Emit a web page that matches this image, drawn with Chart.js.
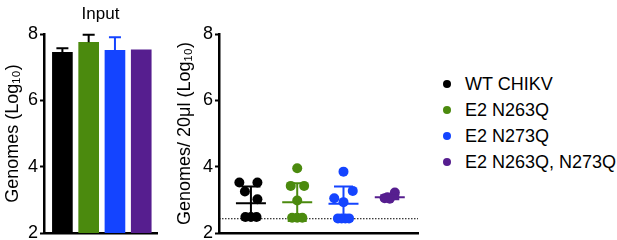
<!DOCTYPE html>
<html>
<head>
<meta charset="utf-8">
<script src="https://cdn.jsdelivr.net/npm/chart.js@4"></script>
<style>
  body { margin: 0; background: #fff; width: 617px; height: 240px; position: relative; overflow: hidden; font-family: "Liberation Sans", Arial, sans-serif; }
  #left { position: absolute; left: 0; top: 0; }
  #right { position: absolute; left: 160px; top: 0; }
  .legend { position: absolute; left: 443px; top: 72px; }
  .legend div { height: 26px; line-height: 24px; font-size: 18px; color: #000; white-space: nowrap; }
  .legend span { display: inline-block; width: 8px; height: 8px; border-radius: 50%; margin-right: 14px; vertical-align: 2px; }
</style>
</head>
<body>
<canvas id="left" width="175" height="240"></canvas>
<canvas id="right" width="270" height="240"></canvas>
<div class="legend" id="legend"></div>
<script>
const groups = ["WT CHIKV", "E2 N263Q", "E2 N273Q", "E2 N263Q, N273Q"];
const colors = ["#000000", "#4b8a0e", "#1444ff", "#561e8f"];
const yTicks = [2, 4, 6, 8];

// input panel: bar height and upper error
const inputMean = [7.45, 7.75, 7.51, 7.52];
const inputErr = [0.12, 0.23, 0.39, 0];
const inputErrColor = ["#000000", "#000000", "#1444ff", "#561e8f"];

// right panel: individual values and jitter offsets (in group units)
const wtVals = [3.52, 3.52, 3.25, 3.02, 2.48, 2.48, 2.48];
const wtJit = [-0.25, 0.14, -0.13, 0.14, -0.12, 0, 0.12];
const n263Vals = [3.95, 3.42, 3.42, 2.98, 2.46, 2.46, 2.46];
const n263Jit = [0, -0.14, 0.15, 0, -0.11, 0, 0.11];
const n273Vals = [3.85, 3.27, 3.05, 2.93, 2.44, 2.44, 2.44, 2.44];
const n273Jit = [0, 0.2, -0.2, 0, -0.12, -0.04, 0.04, 0.12];
const dblVals = [3.05, 3.03, 3.22, 3.08];
const dblJit = [-0.11, 0, 0.11, -0.05];
const groupMean = [2.90, 2.93, 2.88, 3.08];
const groupSD = [0.50, 0.57, 0.52, 0.06];
const detectLimit = 2.43;

const font = "'Liberation Sans', Arial, sans-serif";

function yAxis(title, titlePad, width) {
  return {
    min: 2, max: 8,
    afterBuildTicks: s => { s.ticks = yTicks.map(v => ({ value: v })); },
    afterFit: s => { s.width = width; s.paddingTop = 0; s.paddingBottom = 0; },
    ticks: { color: "#000", font: { family: font, size: 18 }, padding: 2 },
    grid: { drawOnChartArea: false, drawTicks: true, tickLength: 4, tickWidth: 2, tickColor: "#000" },
    border: { display: true, color: "#000", width: 2.5 },
    title: { display: true, text: title, color: "#000", font: { family: font, size: 18 }, padding: { top: titlePad, bottom: 0 } }
  };
}

function xAxis(min, max) {
  return {
    type: "linear", min: min, max: max, offset: false,
    afterFit: s => { s.height = 6; s.paddingLeft = 0; s.paddingRight = 0; },
    ticks: { display: false },
    grid: { display: false, drawTicks: false, offset: false },
    border: { display: true, color: "#000", width: 2.5 }
  };
}

const inputErrPlugin = {
  id: "inputErr",
  afterDatasetsDraw(chart) {
    const ctx = chart.ctx, x = chart.scales.x, y = chart.scales.y;
    ctx.save();
    ctx.lineWidth = 2;
    inputMean.forEach((m, i) => {
      if (!inputErr[i]) return;
      const cx = x.getPixelForValue(i);
      const top = y.getPixelForValue(m + inputErr[i]);
      ctx.strokeStyle = inputErrColor[i];
      ctx.beginPath();
      ctx.moveTo(cx, y.getPixelForValue(m));
      ctx.lineTo(cx, top);
      ctx.moveTo(cx - 6, top);
      ctx.lineTo(cx + 6, top);
      ctx.stroke();
    });
    // panel title, centred over the plot area
    const a = chart.chartArea;
    ctx.fillStyle = "#000";
    ctx.font = "17px " + font;
    ctx.textAlign = "center";
    ctx.textBaseline = "middle";
    ctx.fillText("Input", (a.left + a.right) / 2, 14);
    ctx.restore();
  }
};

new Chart(document.getElementById("left"), {
  type: "bar",
  data: {
    datasets: [{
      data: inputMean.map((v, i) => ({ x: i, y: v })),
      backgroundColor: colors,
      barThickness: 20
    }]
  },
  options: {
    responsive: false, animation: false,
    layout: { padding: { left: 0, right: 18, top: 34, bottom: 1 } },
    plugins: { legend: { display: false }, tooltip: { enabled: false } },
    scales: { x: xAxis(-0.7, 3.6), y: yAxis("Genomes (Log\u2081\u2080)", 2, 44) }
  },
  plugins: [inputErrPlugin]
});

const sdPlugin = {
  id: "sd",
  beforeDatasetsDraw(chart) {
    const ctx = chart.ctx, y = chart.scales.y;
    ctx.save();
    ctx.setLineDash([1.5, 1.5]);
    ctx.lineWidth = 1;
    ctx.strokeStyle = "#000";
    ctx.beginPath();
    ctx.moveTo(chart.chartArea.left, y.getPixelForValue(detectLimit));
    ctx.lineTo(chart.chartArea.right, y.getPixelForValue(detectLimit));
    ctx.stroke();
    ctx.restore();
  },
  afterDatasetsDraw(chart) {
    const ctx = chart.ctx, x = chart.scales.x, y = chart.scales.y;
    ctx.save();
    ctx.lineWidth = 2;
    groupMean.forEach((m, i) => {
      const cx = x.getPixelForValue(i);
      const my = y.getPixelForValue(m);
      const hi = y.getPixelForValue(m + groupSD[i]);
      const lo = y.getPixelForValue(m - groupSD[i]);
      ctx.strokeStyle = colors[i];
      ctx.beginPath();
      ctx.moveTo(cx - 15, my); ctx.lineTo(cx + 15, my);
      ctx.moveTo(cx, hi); ctx.lineTo(cx, lo);
      ctx.moveTo(cx - 9.5, hi); ctx.lineTo(cx + 9.5, hi);
      ctx.moveTo(cx - 9.5, lo); ctx.lineTo(cx + 9.5, lo);
      ctx.stroke();
    });
    ctx.restore();
  }
};

const allVals = [wtVals, n263Vals, n273Vals, dblVals];
const allJit = [wtJit, n263Jit, n273Jit, dblJit];

new Chart(document.getElementById("right"), {
  type: "scatter",
  data: {
    datasets: allVals.map((vals, g) => ({
      label: groups[g],
      data: vals.map((v, k) => ({ x: g + allJit[g][k], y: v })),
      backgroundColor: colors[g],
      borderWidth: 0,
      pointRadius: 5
    }))
  },
  options: {
    responsive: false, animation: false,
    layout: { padding: { left: 0, right: 12, top: 34, bottom: 1 } },
    plugins: { legend: { display: false }, tooltip: { enabled: false } },
    scales: { x: xAxis(-0.69, 3.61), y: yAxis("Genomes/ 20\u03bcl (Log\u2081\u2080)", 14, 59) }
  },
  plugins: [sdPlugin]
});

const legend = document.getElementById("legend");
groups.forEach((g, i) => {
  const row = document.createElement("div");
  row.innerHTML = '<span style="background:' + colors[i] + '"></span>' + g;
  legend.appendChild(row);
});
</script>
</body>
</html>
